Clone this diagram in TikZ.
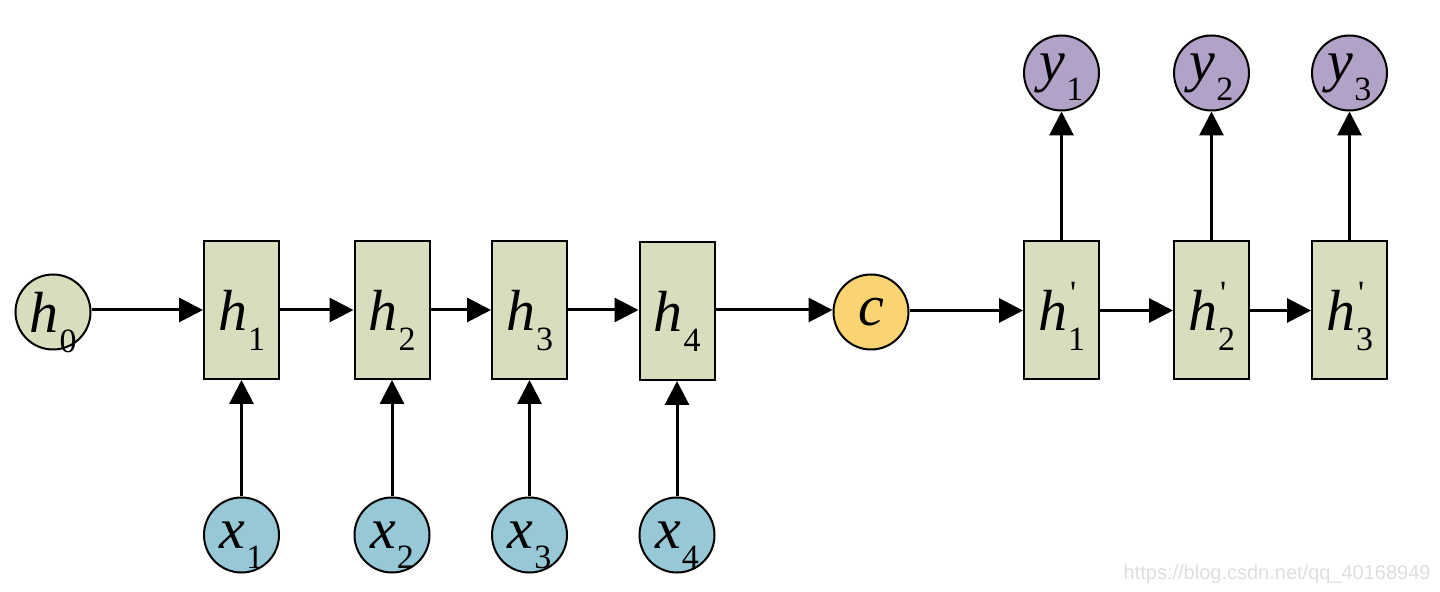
\documentclass[tikz,border=0pt]{standalone}
\usepackage{fontspec}
\setmainfont{Liberation Serif}
\newfontfamily\wmfont{Liberation Sans}
\usetikzlibrary{arrows.meta}
\definecolor{boxfill}{RGB}{214,222,190}
\definecolor{xfill}{RGB}{150,200,214}
\definecolor{cfill}{RGB}{250,212,112}
\definecolor{yfill}{RGB}{178,162,200}
\definecolor{wmgray}{RGB}{222,222,222}
\newcommand{\mylab}[2]{{\fontsize{29}{29}\selectfont\itshape #1}\kern0.5pt\raisebox{-10pt}[0pt][0pt]{\fontsize{17}{17}\selectfont #2}}
\newcommand{\mylabp}[2]{{\fontsize{29}{29}\selectfont\itshape #1}\kern0.5pt\rlap{\kern1pt\raisebox{13pt}[0pt][0pt]{\fontsize{17}{17}\selectfont\textquotesingle}}\raisebox{-10pt}[0pt][0pt]{\fontsize{17}{17}\selectfont #2}}
\tikzset{
  cell/.style={draw=black, line width=1pt, fill=boxfill, minimum width=37.5pt, minimum height=69pt, inner sep=0pt},
  unit/.style={draw=black, line width=1pt, circle, minimum size=37.5pt, inner sep=0pt},
  conn/.style={line width=1.5pt, -{Triangle[length=12pt,width=12pt]}}
}
\begin{document}
\begin{tikzpicture}[x=0.5pt,y=-0.5pt]
\useasboundingbox (0,0) rectangle (1440,592);
% encoder
\node[unit, fill=boxfill] (h0) at (53,312) {\mylab{h}{0}};
\node[cell] (h1) at (241.5,310) {\mylab{h}{1}};
\node[cell] (h2) at (392,310) {\mylab{h}{2}};
\node[cell] (h3) at (529.5,310) {\mylab{h}{3}};
\node[cell] (h4) at (677,311) {\mylab{h}{4}};
\node[unit, fill=cfill] (c) at (871,312) {{\fontsize{29}{29}\selectfont\itshape c}};
% decoder
\node[cell] (d1) at (1061.5,310.5) {\mylabp{h}{1}};
\node[cell] (d2) at (1211.5,310.5) {\mylabp{h}{2}};
\node[cell] (d3) at (1349.5,310.5) {\mylabp{h}{3}};
% inputs
\node[unit, fill=xfill] (x1) at (241.5,535) {\mylab{x}{1}};
\node[unit, fill=xfill] (x2) at (392,535) {\mylab{x}{2}};
\node[unit, fill=xfill] (x3) at (529.5,535) {\mylab{x}{3}};
\node[unit, fill=xfill] (x4) at (677,535) {\mylab{x}{4}};
% outputs
\node[unit, fill=yfill] (y1) at (1061.5,73) {\mylab{y}{1}};
\node[unit, fill=yfill] (y2) at (1211.5,73) {\mylab{y}{2}};
\node[unit, fill=yfill] (y3) at (1349.5,73) {\mylab{y}{3}};
% connectors (horizontal ones drawn at the row height 310)
\draw[conn] (h0.east |- h1.west) -- (h1.west);
\draw[conn] (h1) -- (h2);
\draw[conn] (h2) -- (h3);
\draw[conn] (h3.east) -- (h3.east -| h4.west);
\draw[conn] (h4.east |- h1.east) -- (h1.east -| c.west);
\draw[conn] (c.east |- d1.west) -- (d1.west);
\draw[conn] (d1) -- (d2);
\draw[conn] (d2) -- (d3);
\draw[conn] (x1) -- (h1);
\draw[conn] (x2) -- (h2);
\draw[conn] (x3) -- (h3);
\draw[conn] (x4) -- (h4);
\draw[conn] (d1) -- (y1);
\draw[conn] (d2) -- (y2);
\draw[conn] (d3) -- (y3);
% watermark
\node[text=wmgray, inner sep=0pt, anchor=east] (wm) at (1431,574) {\wmfont\fontsize{10}{10}\selectfont https://blog.csdn.net/qq\_40168949};
\end{tikzpicture}
\end{document}
